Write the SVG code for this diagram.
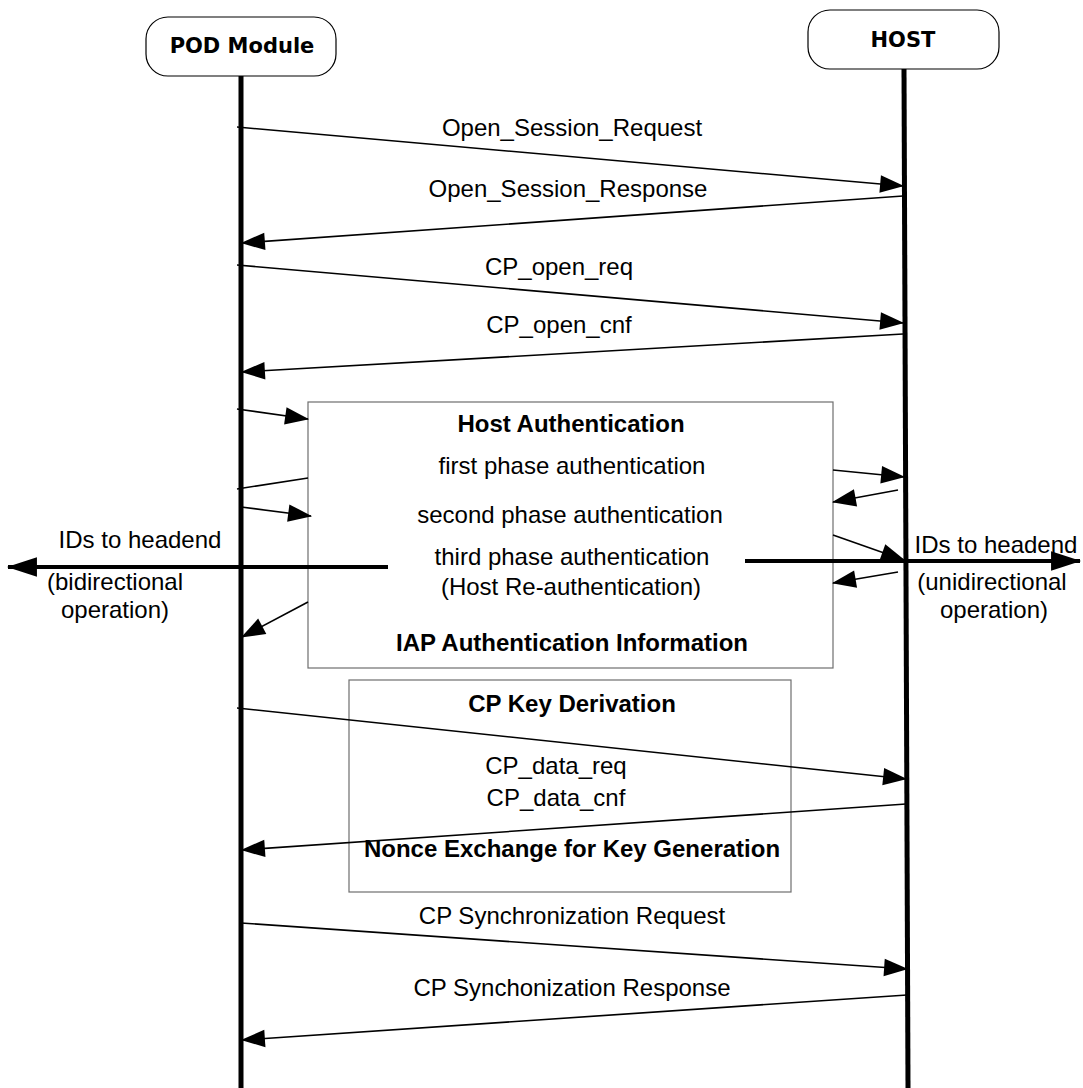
<svg xmlns="http://www.w3.org/2000/svg" width="1083" height="1088" viewBox="0 0 1083 1088">
  <style>
    .lbl { font-family: "Liberation Sans", Arial, sans-serif; font-size: 24px; fill: #000; text-anchor: middle; }
    .bold { font-weight: bold; }
    .head { font-family: "DejaVu Sans", "Liberation Sans", sans-serif; font-size: 21px; font-weight: bold; fill: #000; text-anchor: middle; }
    .headbox { fill: #fff; stroke: #000; stroke-width: 1.2; }
    .frame { fill: #fff; stroke: #6e6e6e; stroke-width: 1.2; }
    .life { stroke: #000; stroke-width: 5; fill: none; }
    .msg { stroke: #000; stroke-width: 1.6; fill: none; marker-end: url(#arrow); }
    .plain { stroke: #000; stroke-width: 1.6; fill: none; }
    .wide { stroke: #000; stroke-width: 4; fill: none; marker-end: url(#bigarrow); }
  </style>
  <defs>
    <marker id="arrow" markerUnits="userSpaceOnUse" markerWidth="24" markerHeight="18" viewBox="0 0 22 16" refX="21" refY="8" orient="auto" overflow="visible">
      <path d="M0,0 L22,8 L0,16 Z" fill="#000"/>
    </marker>
    <marker id="bigarrow" markerUnits="userSpaceOnUse" markerWidth="30" markerHeight="20" viewBox="0 0 28 18" refX="27" refY="9" orient="auto" overflow="visible">
      <path d="M0,0 L28,9 L0,18 Z" fill="#000"/>
    </marker>
  </defs>

  <rect width="1083" height="1088" fill="#fff"/>

  <!-- boxes drawn behind the lifelines -->
  <g id="host-auth">
    <rect class="frame" x="308" y="402" width="525" height="266"/>
    <text class="lbl bold" x="571" y="432">Host Authentication</text>
    <text class="lbl" x="572" y="474">first phase authentication</text>
    <text class="lbl" x="570" y="523">second phase authentication</text>
    <text class="lbl" x="572" y="565">third phase authentication</text>
    <text class="lbl" x="571" y="595">(Host Re-authentication)</text>
    <text class="lbl bold" x="572" y="651">IAP Authentication Information</text>
  </g>

  <g id="cp-key-derivation">
    <rect class="frame" x="349" y="680" width="442" height="212"/>
    <text class="lbl bold" x="572" y="712">CP Key Derivation</text>
    <text class="lbl" x="556" y="774">CP_data_req</text>
    <text class="lbl" x="556" y="806">CP_data_cnf</text>
    <text class="lbl bold" x="572" y="857">Nonce Exchange for Key Generation</text>
  </g>

  <!-- participants with lifelines -->
  <g id="pod-module">
    <line class="life" x1="241" y1="76" x2="241" y2="1088"/>
    <rect class="headbox" x="146" y="17" width="190" height="59" rx="22" ry="22"/>
    <text class="head" x="242" y="53">POD Module</text>
  </g>

  <g id="host">
    <line class="life" x1="904" y1="69" x2="908" y2="1088"/>
    <rect class="headbox" x="808" y="10" width="191" height="59" rx="22" ry="22"/>
    <text class="head" x="903" y="47">HOST</text>
  </g>

  <!-- messages -->
  <g id="connectors">
    <line class="msg" x1="237" y1="127" x2="903" y2="186"/>
    <line class="msg" x1="903" y1="196" x2="242" y2="243"/>
    <line class="msg" x1="237" y1="265" x2="903" y2="323"/>
    <line class="msg" x1="903" y1="334" x2="242" y2="372"/>

    <line class="msg" x1="237" y1="409" x2="308" y2="419"/>
    <line class="plain" x1="237" y1="489" x2="308" y2="478"/>
    <line class="msg" x1="241" y1="507" x2="311" y2="516"/>
    <line class="msg" x1="308" y1="602" x2="242" y2="637"/>

    <line class="msg" x1="833" y1="470" x2="904" y2="477"/>
    <line class="msg" x1="898" y1="490" x2="833" y2="502"/>
    <line class="msg" x1="833" y1="535" x2="904" y2="560"/>
    <line class="msg" x1="898" y1="572" x2="833" y2="583"/>

    <line class="wide" x1="388" y1="567" x2="8" y2="567"/>
    <line class="wide" x1="745" y1="561" x2="1080" y2="561"/>

    <line class="msg" x1="237" y1="708" x2="906" y2="779"/>
    <line class="msg" x1="906" y1="804" x2="242" y2="850"/>

    <line class="msg" x1="241" y1="923" x2="907" y2="969"/>
    <line class="msg" x1="907" y1="995" x2="242" y2="1040"/>
  </g>

  <!-- message labels -->
  <g id="labels">
    <text class="lbl" x="572" y="136">Open_Session_Request</text>
    <text class="lbl" x="568" y="197">Open_Session_Response</text>
    <text class="lbl" x="559" y="275">CP_open_req</text>
    <text class="lbl" x="559" y="333">CP_open_cnf</text>
    <text class="lbl" x="140" y="548">IDs to headend</text>
    <text class="lbl" x="115" y="590">(bidirectional</text>
    <text class="lbl" x="115" y="618">operation)</text>
    <text class="lbl" x="996" y="553">IDs to headend</text>
    <text class="lbl" x="992" y="590">(unidirectional</text>
    <text class="lbl" x="994" y="618">operation)</text>
    <text class="lbl" x="572" y="924">CP Synchronization Request</text>
    <text class="lbl" x="572" y="996">CP Synchonization Response</text>
  </g>
</svg>
